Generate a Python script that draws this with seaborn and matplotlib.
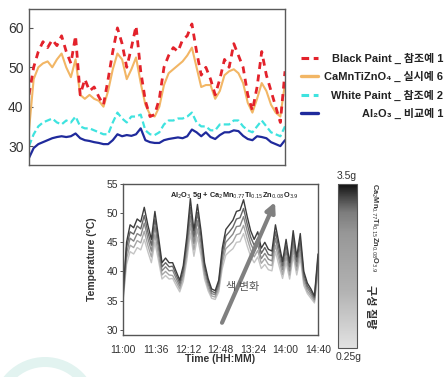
import numpy as np
import pandas as pd
import matplotlib
matplotlib.use("Agg")
import matplotlib.pyplot as plt
import seaborn as sns
from matplotlib.lines import Line2D
from matplotlib.patches import Wedge
from matplotlib.transforms import IdentityTransform
from matplotlib.colors import LinearSegmentedColormap, Normalize
import matplotlib.cm as cm

# ---------------- data: top panel (minutes after 11:00) ----------------
minutes_top = list(range(0, 221, 4))
black_paint = [43, 50, 54, 56.5, 55, 57, 55.5, 58, 54, 51, 58, 43, 47, 44, 45, 42.5, 40.5, 47, 54, 60,
               56, 50, 55, 60.5, 49, 41.5, 37.5, 38, 42, 50, 53, 55, 54, 57, 58, 61, 54, 48, 50, 47,
               43, 47, 52, 50, 56, 53, 50, 43, 39, 45, 54, 48, 44, 40, 36, 49]
camntizno = [34, 47, 50, 51, 51.5, 50, 52, 53.5, 50, 47.5, 52, 43, 42, 43, 42, 41.5, 40, 44, 49.5, 53.5,
             52, 47, 49.5, 52.5, 46, 40.5, 38, 37.5, 40, 45.5, 48.5, 49.5, 50.5, 51.5, 53, 55, 50, 45, 45.5, 45.5,
             42, 44, 48, 49, 49.5, 48.5, 46, 41, 38.5, 42, 46, 44, 40.5, 38.5, 37.5, 46]
white_paint = [30, 33, 35, 36, 36.5, 37, 36, 35.5, 36.5, 36, 37.5, 35, 34.5, 34.5, 34, 33.5, 33, 33, 36, 38.5,
               37, 36, 37.5, 37.5, 38, 34, 33, 32.8, 33.5, 35.5, 36.5, 36.5, 37, 37, 37.5, 38.5, 36, 35, 35, 34,
               34, 35.5, 35.5, 35.5, 36.5, 36.5, 35, 34, 33.5, 35, 36.5, 35, 33.5, 33, 32.5, 35]
al2o3 = [27, 29.5, 30.5, 31, 31.5, 32, 32.3, 32.5, 32.3, 32.5, 33.2, 32, 31.5, 31.3, 31, 30.8, 30.5, 30.5, 31.5, 33,
         32.5, 32.8, 32.6, 33, 34.5, 31.5, 31, 30.8, 30.8, 31.5, 31.8, 32, 32.2, 32, 32.5, 34.2, 33.5, 32.5, 33.5, 32.3,
         31.8, 32.8, 33.5, 33.5, 34, 33.8, 32.6, 31.8, 31.5, 32.5, 32.3, 32, 31, 30.5, 30, 31.5]
top_labels = ["Black Paint _ 참조예 1", "CaMnTiZnO\u2084 _ 실시예 6",
              "White Paint _ 참조예 2", "Al\u2082O\u2083 _ 비교예 1"]

# ---------------- data: bottom panel ----------------
minutes_bottom = list(range(0, 221, 4))
mass_35 = [36, 45, 48, 47.5, 49, 48.5, 51, 48, 45.5, 50.3, 46, 41.5, 42.3, 41.5, 41.5, 40, 38.5, 41, 46, 52.5,
           47, 51.5, 47, 41.5, 38.8, 37, 36.7, 38.5, 44, 47.2, 48, 48.8, 50.3, 50.5, 52.3, 49.5, 47, 45.5, 46.8, 44,
           45, 43.8, 43.5, 48, 44.8, 41.7, 45.5, 41.5, 47, 42.5, 46.5, 40, 38, 37, 35.8, 43]
mass_27 = [35.7, 44.1, 46.8, 46.4, 47.8, 47.3, 49.6, 46.8, 44.5, 49, 45, 40.8, 41.5, 40.8, 40.9, 39.4, 38, 40.3, 45, 51,
           45.9, 50.1, 46, 40.8, 38.3, 36.6, 36.3, 38, 43.1, 46.1, 46.8, 47.6, 49, 49.2, 50.8, 48.2, 45.9, 44.5, 45.7, 43.1,
           44.1, 42.9, 42.7, 46.8, 43.9, 41, 44.5, 40.8, 45.9, 41.7, 45.4, 39.4, 37.5, 36.6, 35.5, 42.2]
mass_19 = [35.4, 43.1, 45.7, 45.2, 46.5, 46.1, 48.3, 45.7, 43.5, 47.7, 44, 40.1, 40.8, 40.1, 40.2, 38.8, 37.5, 39.7, 44, 49.5,
           44.8, 48.7, 44.9, 40.1, 37.8, 36.2, 36, 37.5, 42.2, 45, 45.7, 46.4, 47.7, 47.8, 49.4, 47, 44.8, 43.5, 44.6, 42.2,
           43.1, 42.1, 41.8, 45.7, 42.9, 40.3, 43.5, 40.1, 44.8, 40.9, 44.4, 38.8, 37.1, 36.2, 35.2, 41.4]
mass_11 = [35, 42.2, 44.5, 44.1, 45.3, 44.9, 46.9, 44.5, 42.5, 46.3, 42.9, 39.4, 40, 39.4, 39.3, 38.2, 37, 39, 42.9, 48.1,
           43.7, 47.3, 43.8, 39.4, 37.2, 35.8, 35.6, 37, 41.4, 43.9, 44.5, 45.1, 46.3, 46.5, 47.9, 45.7, 43.7, 42.5, 43.6, 41.4,
           42.2, 41.2, 41, 44.5, 42, 39.5, 42.5, 39.4, 43.7, 40.2, 43.3, 38.2, 36.6, 35.8, 34.9, 40.6]
mass_025 = [34.7, 41.2, 43.4, 43, 44.1, 43.7, 45.5, 43.4, 41.5, 45, 41.9, 38.7, 39.3, 38.7, 38.8, 37.6, 36.5, 38.3, 41.9, 46.6,
            42.6, 45.9, 42.7, 38.7, 36.7, 35.4, 35.2, 36.5, 40.5, 42.8, 43.4, 43.9, 45, 45.1, 46.5, 44.4, 42.6, 41.5, 42.5, 40.5,
            41.2, 40.3, 40.1, 43.4, 41, 38.8, 41.5, 38.7, 42.6, 39.4, 42.3, 37.6, 36.2, 35.4, 34.6, 39.8]
mass_names = ["0.25g", "1.1g", "1.9g", "2.7g", "3.5g"]
bottom_xticklabels = ["11:00", "11:36", "12:12", "12:48", "13:24", "14:00", "14:40"]

# ---------------- style ----------------
sns.set_theme(style="white")
plt.rcParams["font.family"] = ["Liberation Sans", "DejaVu Sans", "Noto Sans CJK KR"]
plt.rcParams["axes.unicode_minus"] = False

W, H = 446, 377
fig = plt.figure(figsize=(W / 100, H / 100), dpi=100)

def fx(px):
    return px / W

def fy(py):
    return 1 - py / H

# decorative teal ring at bottom-left
ring = Wedge((45, H - 410), 53, 0, 180, width=10, transform=IdentityTransform(),
             facecolor="#e2f3f0", edgecolor="none", zorder=0)
fig.add_artist(ring)

# ---------------- top panel ----------------
ax1 = fig.add_axes([fx(29), fy(165), fx(285) - fx(29), fy(9) - fy(165)])
top_df = pd.DataFrame({"t": minutes_top, "black": black_paint, "camn": camntizno,
                       "white": white_paint, "al": al2o3})
styles = [
    ("al", "#1f2a9c", "-", 1.6),
    ("white", "#3fe3df", (0, (3, 1.5)), 1.6),
    ("camn", "#f2b665", "-", 1.5),
    ("black", "#e3222b", (0, (2.5, 2)), 2.0),
]
for col, color, ls, lw in styles:
    sns.lineplot(data=top_df, x="t", y=col, ax=ax1, color=color, linestyle=ls, lw=lw)
ax1.set_xlim(0, 220)
ax1.set_ylim(25.2, 64.8)
ax1.set_yticks([30, 40, 50, 60])
ax1.set_xticks([])
ax1.set_xlabel("")
ax1.set_ylabel("")
ax1.tick_params(axis="y", left=True, direction="in", length=3, width=0.8, pad=4,
                labelsize=10, labelcolor="#333333", color="#555555")
for lab in ax1.get_yticklabels():
    lab.set_family(["Liberation Sans Narrow", "Liberation Sans"])
for sp in ax1.spines.values():
    sp.set_color("#5a5a5a")
    sp.set_linewidth(1.0)

# manual legend (right-aligned labels)
leg_rows = [58, 76, 95, 113]
leg_styles = [("#e3222b", (0, (2.5, 1.5)), 2.2), ("#f2b665", "-", 2.4),
              ("#3fe3df", (0, (2.5, 1.5)), 2.2), ("#1f2a9c", "-", 2.4)]
for row, lab, (color, ls, lw) in zip(leg_rows, top_labels, leg_styles):
    fig.add_artist(Line2D([fx(301), fx(318)], [fy(row), fy(row)], color=color,
                          linestyle=ls, lw=lw, transform=fig.transFigure))
    fig.text(fx(443), fy(row), lab, ha="right", va="center", fontsize=7.9,
             fontweight="bold", color="#222222")

# ---------------- bottom panel ----------------
ax2 = fig.add_axes([fx(123), fy(335), fx(318) - fx(123), fy(184) - fy(335)])
bottom_series = [mass_025, mass_11, mass_19, mass_27, mass_35]
long = pd.concat([pd.DataFrame({"t": minutes_bottom, "temp": s, "mass": name})
                  for s, name in zip(bottom_series, mass_names)], ignore_index=True)
gray_palette = dict(zip(mass_names, ["#c4c4c4", "#a6a6a6", "#878787", "#666666", "#3c3c3c"]))
sns.lineplot(data=long, x="t", y="temp", hue="mass", hue_order=mass_names,
             palette=gray_palette, ax=ax2, legend=False, lw=1.0)
ax2.set_xlim(0, 220)
ax2.set_ylim(29.1, 55)
ax2.set_yticks([30, 35, 40, 45, 50, 55])
ax2.set_xticks(np.linspace(0, 220, 7))
ax2.set_xticklabels(bottom_xticklabels)
ax2.tick_params(axis="y", left=True, direction="out", length=2.5, width=0.7, pad=1,
                labelsize=7.5, labelcolor="#333333", color="#555555")
ax2.tick_params(axis="x", bottom=False, pad=1, labelsize=7.5, labelcolor="#333333")
for sp in ax2.spines.values():
    sp.set_color("#555555")
    sp.set_linewidth(1.0)
ax2.set_xlabel("Time (HH:MM)", fontsize=7.5, fontweight="bold", color="#333333")
ax2.set_ylabel("Temperature (°C)", fontsize=7.5, fontweight="bold", color="#333333")
ax2.xaxis.set_label_coords(0.5, -0.128)
ax2.yaxis.set_label_coords(-0.135, 0.5)

ax2.text(0.57, 0.927, r"Al$_2$O$_3$ 5g + Ca$_2$Mn$_{0.77}$Ti$_{0.15}$Zn$_{0.08}$O$_{3.9}$",
         transform=ax2.transAxes, ha="center", va="center", fontsize=5.3,
         fontweight="bold", color="#222222")
ax2.annotate("", xy=(171.5, 51.9), xytext=(111.7, 31.2),
             arrowprops=dict(arrowstyle="-|>", lw=3, color="#808080",
                             mutation_scale=14, shrinkA=0, shrinkB=0))
ax2.text(135.4, 37.4, "색 변화", ha="center", va="center", fontsize=8,
         family=["Noto Sans CJK KR"], color="#555555")

# ---------------- colorbar ----------------
cax = fig.add_axes([fx(338), fy(348), fx(357) - fx(338), fy(184) - fy(348)])
gray_cmap = LinearSegmentedColormap.from_list(
    "mass_gray", [(0.0, "#e2e2e2"), (0.35, "#b2b2b2"), (0.7, "#979797"),
                  (0.83, "#7c7c7c"), (0.93, "#404040"), (1.0, "#111111")])
sm = cm.ScalarMappable(norm=Normalize(0.25, 3.5), cmap=gray_cmap)
cb = fig.colorbar(sm, cax=cax)
cb.set_ticks([])
cb.outline.set_edgecolor("#555555")
cb.outline.set_linewidth(0.8)
fig.text(fx(347), fy(176), "3.5g", ha="center", va="center", fontsize=7.5, color="#333333")
fig.text(fx(349), fy(357), "0.25g", ha="center", va="center", fontsize=7.5, color="#333333")
fig.text(fx(374), fy(228), r"Ca$_2$Mn$_{0.77}$Ti$_{0.15}$Zn$_{0.08}$O$_{3.9}$",
         rotation=270, ha="center", va="center", fontsize=5.3, fontweight="bold", color="#333333")
fig.text(fx(370), fy(307), "구성 질량", rotation=270, ha="center", va="center",
         fontsize=8, family=["Noto Sans CJK KR"], fontweight="bold", color="#333333")

fig.savefig("out.png", dpi=100)
